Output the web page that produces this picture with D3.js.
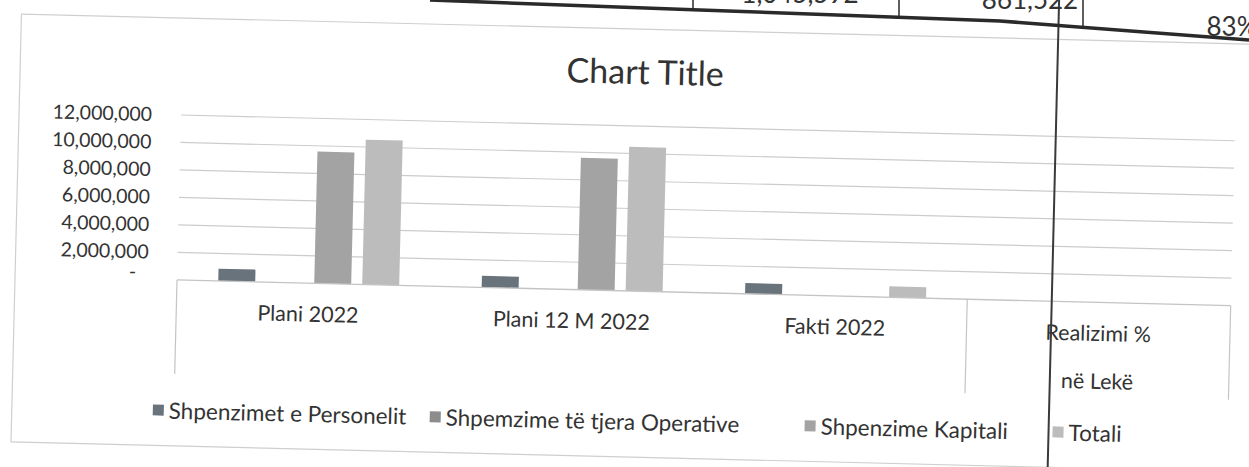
<!DOCTYPE html>
<html>
<head>
<meta charset="utf-8">
<script src="https://cdn.jsdelivr.net/npm/d3@7"></script>
<style>
  body { margin: 0; background: #ffffff; }
  svg { display: block; }
  text { font-family: Lato, "Open Sans", sans-serif; fill: #333333; }
</style>
</head>
<body>
<div id="chart"></div>
<script>
// chart data
var categories = ['Plani 2022', 'Plani 12 M 2022', 'Fakti 2022', 'Realizimi %|në Lekë'];
var seriesNames = ['Shpenzimet e Personelit', 'Shpemzime të tjera Operative', 'Shpenzime Kapitali', 'Totali'];
var personelit = [890000, 840000, 780000, 0];
var operative = [0, 0, 0, 0];
var kapitali = [9580000, 9600000, 20000, 0];
var totali = [10530000, 10480000, 800000, 0];
var yTicks = [0, 2000000, 4000000, 6000000, 8000000, 10000000, 12000000];
var chartTitle = 'Chart Title';
// the table cells cut off at the top of the scan
var tableCells = ['1,045,592', '861,522', '83%'];

var seriesValues = [personelit, operative, kapitali, totali];
var colors = ['#69737b', '#8c8c8c', '#a3a3a3', '#bcbcbc'];

var svgWidth = 1249;
var svgHeight = 467;

var svg = d3.select('#chart')
    .append('svg')
    .attr('width', svgWidth)
    .attr('height', svgHeight);

// the scanned page is tilted a little
var page = svg.append('g')
    .attr('transform', 'rotate(1.4, 180, 280)');

// chart frame
page.append('rect')
    .attr('x', 15)
    .attr('y', 18)
    .attr('width', 1260)
    .attr('height', 428)
    .attr('fill', 'none')
    .attr('stroke', '#cfcfcf')
    .attr('stroke-width', 1.2);

var plotLeft = 177;
var plotRight = 1231;

// Step 1: scales
var x0 = d3.scaleBand()
    .domain(categories)
    .range([plotLeft, plotRight]);

var groupWidth = 181;
var x1 = d3.scaleBand()
    .domain(seriesNames)
    .range([0, groupWidth])
    .paddingInner(0.23);

var y = d3.scaleLinear()
    .domain([0, 12000000])
    .range([280, 115]);

// Step 2: gridlines
page.append('g')
    .selectAll('line')
    .data(yTicks.filter(d => d > 0))
    .enter()
    .append('line')
    .attr('x1', plotLeft)
    .attr('x2', plotRight)
    .attr('y1', d => y(d))
    .attr('y2', d => y(d))
    .attr('stroke', '#cccccc')
    .attr('stroke-width', 1.2);

// Step 3: y axis labels
var leftAxis = d3.axisLeft(y)
    .tickValues(yTicks)
    .tickSize(0)
    .tickPadding(32)
    .tickFormat(d => d === 0 ? '-' : d3.format(',')(d));

var yAxisG = page.append('g')
    .attr('transform', `translate(180, 0)`)
    .call(leftAxis);

yAxisG.select('.domain').remove();
yAxisG.selectAll('text')
    .attr('font-size', '19.5px')
    .attr('font-family', 'Lato, sans-serif')
    .attr('fill', '#333333');
yAxisG.selectAll('.tick')
    .filter(d => d === 0)
    .select('text')
    .attr('x', -44)
    .attr('dy', '-0.05em');

// Step 4: bars
var groups = page.append('g')
    .selectAll('g')
    .data(categories)
    .enter()
    .append('g')
    .attr('transform', d => `translate(${x0(d) + (x0.bandwidth() - groupWidth) / 2}, 0)`);

groups.selectAll('rect')
    .data((d, i) => seriesNames.map((s, j) => ({ series: s, value: seriesValues[j][i], idx: j })))
    .enter()
    .append('rect')
    .attr('x', d => x1(d.series))
    .attr('y', d => y(d.value))
    .attr('width', x1.bandwidth())
    .attr('height', d => y(0) - y(d.value))
    .attr('fill', d => colors[d.idx]);

// Step 5: category axis box
page.append('line')
    .attr('x1', plotLeft)
    .attr('x2', plotRight)
    .attr('y1', y(0))
    .attr('y2', y(0))
    .attr('stroke', '#c4c4c4')
    .attr('stroke-width', 1.3);

var tickPos = [plotLeft, x0(categories[3]), plotRight];
page.append('g')
    .selectAll('line')
    .data(tickPos)
    .enter()
    .append('line')
    .attr('x1', d => d)
    .attr('x2', d => d)
    .attr('y1', y(0))
    .attr('y2', y(0) + 94)
    .attr('stroke', '#c4c4c4')
    .attr('stroke-width', 1.2);

var catLabels = page.append('g')
    .selectAll('text')
    .data(categories)
    .enter()
    .append('text')
    .attr('x', d => x0(d) + x0.bandwidth() / 2)
    .attr('y', y(0) + 31)
    .attr('text-anchor', 'middle')
    .attr('font-size', '21.5px');

catLabels.selectAll('tspan')
    .data(d => d.split('|'))
    .enter()
    .append('tspan')
    .attr('x', function () { return d3.select(this.parentNode).attr('x'); })
    .attr('dy', (d, i) => i === 0 ? '0.35em' : '48px')
    .text(d => d);

// Step 6: title
page.append('text')
    .attr('x', 640)
    .attr('y', 61)
    .attr('dy', '0.35em')
    .attr('text-anchor', 'middle')
    .attr('font-size', '34px')
    .attr('fill', '#353535')
    .text(chartTitle);

// Step 7: legend
var legendX = [156, 433, 808, 1056];
var legend = page.append('g')
    .selectAll('g')
    .data(seriesNames)
    .enter()
    .append('g')
    .attr('transform', (d, i) => `translate(${legendX[i]}, 411)`);

legend.append('rect')
    .attr('x', 0)
    .attr('y', -6)
    .attr('width', 11)
    .attr('height', 11)
    .attr('fill', (d, i) => colors[i]);

legend.append('text')
    .attr('x', 16)
    .attr('dy', '0.35em')
    .attr('font-size', '22.5px')
    .text(d => d);

// document table line crossing the chart
page.append('line')
    .attr('x1', 1052)
    .attr('x2', 1052)
    .attr('y1', -40)
    .attr('y2', 520)
    .attr('stroke', '#3a3a3a')
    .attr('stroke-width', 2);

// Step 8: table edge from the page above
var doc = svg.append('g');
doc.append('path')
    .attr('d', 'M430,0 L700,10 L1000,21 L1249,40')
    .attr('fill', 'none')
    .attr('stroke', '#2a2a2a')
    .attr('stroke-width', 3.5);

[693, 899, 1083].forEach(function (xp, i) {
    doc.append('line')
        .attr('x1', xp)
        .attr('x2', xp)
        .attr('y1', 0)
        .attr('y2', [11, 19, 29][i])
        .attr('stroke', '#2a2a2a')
        .attr('stroke-width', 1.5);
});

doc.selectAll('text')
    .data(tableCells)
    .enter()
    .append('text')
    .attr('x', (d, i) => [800, 1030, 1232][i])
    .attr('y', (d, i) => [3, 9, 36][i])
    .attr('text-anchor', 'middle')
    .attr('font-family', '"Liberation Serif", serif')
    .attr('font-size', '26px')
    .attr('fill', '#1e1e1e')
    .text(d => d);
</script>
</body>
</html>
